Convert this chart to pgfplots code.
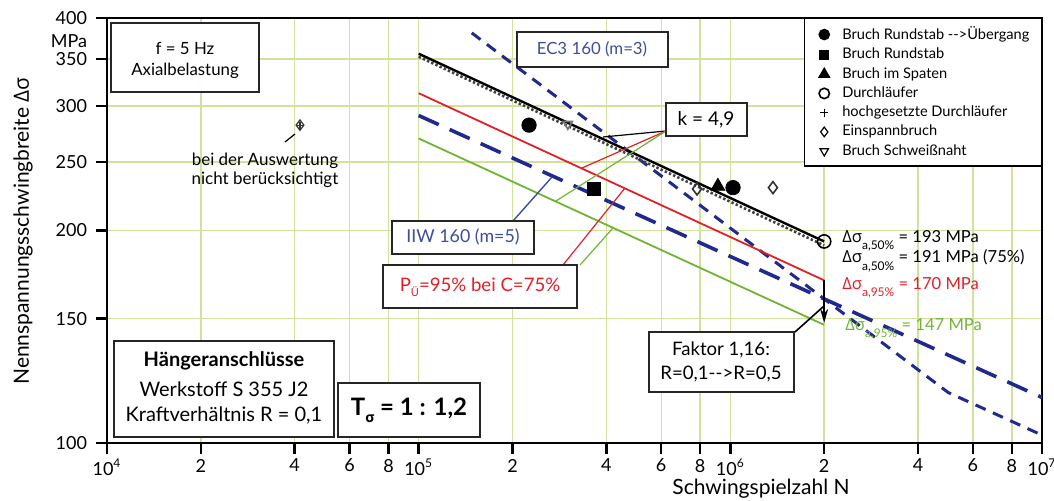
\documentclass[border=0pt]{standalone}
\usepackage{pgfplots}
\pgfplotsset{compat=1.18}
\usetikzlibrary{arrows.meta}
\usepackage{fontspec}
\setmainfont{Lato}
\newfontfamily\gr{Open Sans}

\definecolor{gridgreen}{RGB}{208,226,158}
\definecolor{lgreen}{RGB}{112,180,52}
\definecolor{lred}{RGB}{226,32,38}
\definecolor{dblue}{RGB}{32,42,142}
\definecolor{tblue}{RGB}{62,78,158}

\newcommand{\fs}[1]{\fontsize{#1}{#1}\selectfont}
\newcommand{\ds}{{\gr Δσ}}

\begin{document}
\begin{tikzpicture}
\useasboundingbox (-53.5pt,-29pt) rectangle (473.5pt,221.5pt);
\begin{axis}[
  at={(0,0)}, anchor=south west, scale only axis,
  width=467.5pt, height=212.5pt,
  xmode=log, ymode=log,
  xmin=1e4, xmax=1e7, ymin=100, ymax=400,
  xtick={1e4,2e4,4e4,6e4,8e4,1e5,2e5,4e5,6e5,8e5,1e6,2e6,4e6,6e6,8e6,1e7},
  xticklabels={10\textsuperscript{4},2,4,6,8,10\textsuperscript{5},2,4,6,8,10\textsuperscript{6},2,4,6,8,10\textsuperscript{7}},
  ytick={100,150,200,250,300,350,400},
  yticklabels={100,150,200,250,300,350,400},
  minor tick num=0, minor xtick={}, minor ytick={},
  grid=major, major grid style={gridgreen, line width=0.7pt},
  axis line style={line width=1.4pt},
  tick pos=left, tick align=outside, major tick length=5.5pt,
  every tick/.style={black, line width=1.2pt},
  tick label style={font=\fs{9}},
  xticklabel style={yshift=1pt},
  yticklabel style={xshift=-1pt},
  legend style={at={(1,1)}, anchor=north east, draw=black, line width=0.6pt,
    font=\fs{7.3}, row sep=0.75pt, inner xsep=5pt, inner ysep=3pt, fill=white,
    nodes={inner sep=1pt}},
  legend cell align=left,
  legend image code/.code={\path[draw=none, fill=none] (0pt,0pt) -- (13pt,0pt);
    \draw[#1] plot coordinates {(5pt,0pt)};},
]
% Auslegungslinien
\addplot[dblue, line width=1.5pt, dash pattern=on 5.5pt off 4pt, forget plot]
  coordinates {(1.48e5,381)(5e6,117.9)(1e7,102.6)};
\addplot[dblue, line width=1.8pt, dash pattern=on 11pt off 6pt, forget plot]
  coordinates {(1e5,291)(1e7,116)};
\addplot[lgreen, line width=0.9pt, forget plot] coordinates {(1e5,270)(2e6,147)};
\addplot[lred, line width=0.9pt, forget plot] coordinates {(1e5,313)(2e6,170)};
\addplot[black!75, line width=1.3pt, dash pattern=on 1.2pt off 1.1pt, forget plot]
  coordinates {(1e5,352.5)(2e6,190.5)};
\addplot[black, line width=1.2pt, forget plot] coordinates {(1e5,356)(2e6,193)};
\addplot[black, line width=0.8pt, -{Stealth[length=7pt,width=4pt]}, forget plot]
  coordinates {(2e6,170)(2e6,148)};

% Versuchsergebnisse
\addplot[only marks, mark=*, mark size=3.6pt, black, forget plot]
  coordinates {(2.26e5,282)(1.02e6,230)};
\addplot[only marks, mark=square*, mark size=3.2pt, black, forget plot]
  coordinates {(3.65e5,229)};
\addplot[only marks, mark=triangle*, mark size=4pt, black, forget plot]
  coordinates {(9.12e5,231)};
\addplot[only marks, mark=o, mark size=3.3pt, black, thick, forget plot]
  coordinates {(2e6,193)};
\addplot[only marks, mark=diamond, mark size=3pt, black!80, thick, forget plot]
  coordinates {(7.82e5,229)(1.37e6,230)};
\addplot[only marks, mark=diamond, mark size=2.6pt, black!80, semithick, forget plot]
  coordinates {(4.16e4,282)};
\addplot[only marks, mark=+, mark size=1.8pt, black!80, semithick, forget plot]
  coordinates {(4.16e4,282)};
\addplot[only marks, mark=triangle, mark options={rotate=180}, mark size=2.6pt, black!55, thick, forget plot]
  coordinates {(3.01e5,283)};

% Legende
\addlegendimage{only marks, mark=*, mark size=2.6pt, black}
\addlegendentry{Bruch Rundstab {-}{-}>Übergang}
\addlegendimage{only marks, mark=square*, mark size=2.3pt, black}
\addlegendentry{Bruch Rundstab}
\addlegendimage{only marks, mark=triangle*, mark size=3pt, black}
\addlegendentry{Bruch im Spaten}
\addlegendimage{only marks, mark=o, mark size=2.6pt, black, thick}
\addlegendentry{Durchläufer}
\addlegendimage{only marks, mark=+, mark size=2pt, black}
\addlegendentry{hochgesetzte Durchläufer}
\addlegendimage{only marks, mark=diamond, mark size=2.4pt, black}
\addlegendentry{Einspannbruch}
\addlegendimage{only marks, mark=triangle, mark options={rotate=180}, mark size=2.4pt, black}
\addlegendentry{Bruch Schweißnaht}
\end{axis}

% Beschriftungen in Bildpunkt-Koordinaten der Vorlage
\begin{scope}[x=0.5pt, y=-0.5pt, shift={(-53.5pt,221.5pt)},
  box/.style={draw=black!85, fill=white, line width=0.7pt}]
  \node[font=\fs{9}] at (69,41) {MPa};
  \node[font=\fs{10.5}, rotate=90] at (23,231) {Nennspannungsschwingbreite \ds};
  \node[font=\fs{10.5}] at (761,489) {Schwingspielzahl N};

  \draw[box] (111,23) rectangle (259,92);
  \node[font=\fs{8.4}] at (185,48) {f = 5 Hz};
  \node[font=\fs{8.4}] at (185,71) {Axialbelastung};

  \draw[black, line width=0.6pt] (285,142) -- (295,134);
  \node[font=\fs{8.5}, align=center, inner sep=0pt] at (265,170)
    {bei der Auswertung\\[1pt]nicht berücksichtigt};

  \draw[box] (517,32) rectangle (668,67);
  \node[font=\fs{8.4}, text=tblue] at (592,49) {EC3 160 (m=3)};

  \draw[black, line width=0.6pt] (666,131) -- (603,137);
  \draw[lred, line width=0.6pt] (666,131) -- (582,168);
  \draw[lgreen, line width=0.6pt] (666,131) -- (556,201);
  \draw[box] (666,103) rectangle (747,136);
  \node[font=\fs{9.5}] at (706,120) {k = 4,9};

  \draw[tblue, line width=0.7pt] (513,221) -- (552,177);
  \draw[box] (392,221) rectangle (534,254);
  \node[font=\fs{8.9}, text=tblue] at (463,237) {IIW 160 (m=5)};

  \draw[lred, line width=0.6pt] (563,265) -- (625,188);
  \draw[lgreen, line width=0.6pt] (580,265) -- (613,228);
  \draw[box] (383,265) rectangle (577,308);
  \node[font=\fs{9.3}, text=lred] at (480,287) {P\raisebox{-0.5ex}{\fs{5.5}Ü}=95\% bei C=75\%};

  \draw[black, line width=0.8pt] (795,332) -- (824,306);
  \draw[box] (649,332) rectangle (794,392);
  \node[font=\fs{9.3}] at (721,350) {Faktor 1,16:};
  \node[font=\fs{9.3}] at (721,374) {R=0,1{-}{-}>R=0,5};

  \node[font=\fs{8.3}, anchor=west, inner sep=0pt] at (842,241)
    {\ds\raisebox{-0.9ex}{\fs{6}a,50\%} = 193 MPa};
  \node[font=\fs{8.3}, anchor=west, inner sep=0pt] at (842,261)
    {\ds\raisebox{-0.9ex}{\fs{6}a,50\%} = 191 MPa (75\%)};
  \node[font=\fs{8.3}, anchor=west, inner sep=0pt, text=lred] at (842,288)
    {\ds\raisebox{-0.9ex}{\fs{6}a,95\%} = 170 MPa};
  \node[font=\fs{8.3}, anchor=west, inner sep=0pt, text=lgreen] at (845,329)
    {\ds\raisebox{-0.9ex}{\fs{6}a,95\%} = 147 MPa};

  \draw[box] (114,341) rectangle (334,437);
  \node[font=\bfseries\fs{10}] at (224,361) {Hängeranschlüsse};
  \node[font=\fs{10}] at (224,389) {Werkstoff S 355 J2};
  \node[font=\fs{10}] at (224,415) {Kraftverhältnis R = 0,1};

  \draw[box] (338,383) rectangle (480,437);
  \node[font=\bfseries\fs{12}] at (409,410) {T\raisebox{-0.6ex}{\fs{7}\gr σ} = 1 : 1,2};
\end{scope}
\end{tikzpicture}
\end{document}
